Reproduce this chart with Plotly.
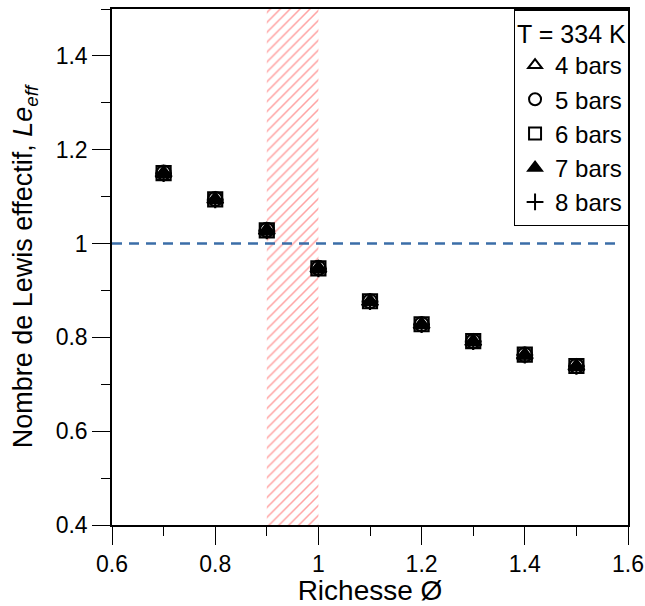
import plotly.graph_objects as go

richesse = [0.7, 0.8, 0.9, 1.0, 1.1, 1.2, 1.3, 1.4, 1.5]
le_4bars = [1.150, 1.094, 1.028, 0.947, 0.876, 0.827, 0.791, 0.762, 0.738]
le_5bars = [1.151, 1.095, 1.029, 0.948, 0.877, 0.828, 0.792, 0.763, 0.739]
le_6bars = [1.150, 1.094, 1.028, 0.947, 0.877, 0.828, 0.792, 0.763, 0.739]
le_7bars = [1.149, 1.093, 1.027, 0.946, 0.876, 0.827, 0.791, 0.762, 0.738]
le_8bars = [1.149, 1.093, 1.027, 0.946, 0.876, 0.827, 0.791, 0.762, 0.738]

zone_x = [0.9, 1.0]
ref_level = 1.0
FONT = "Liberation Sans, Arial"

fig = go.Figure()

# hatched zone
fig.add_trace(go.Scatter(
    x=[zone_x[0], zone_x[1], zone_x[1], zone_x[0], zone_x[0]],
    y=[0.4, 0.4, 1.5, 1.5, 0.4],
    fill="toself", mode="none", fillcolor="rgba(0,0,0,0)",
    fillpattern=dict(shape="/", fgcolor="rgb(255,70,70)", bgcolor="rgba(0,0,0,0)",
                     size=7, solidity=0.22),
    showlegend=False, hoverinfo="skip"))

# reference dashed line
fig.add_trace(go.Scatter(
    x=[0.6, 1.58], y=[ref_level, ref_level], mode="lines",
    line=dict(color="#3b6ea8", width=2.5, dash="10px,7px"),
    showlegend=False, hoverinfo="skip"))

series = [
    ("4 bars", le_4bars, "triangle-up-open", 14),
    ("5 bars", le_5bars, "circle-open", 14),
    ("6 bars", le_6bars, "square-open", 14),
    ("7 bars", le_7bars, "triangle-up", 13),
    ("8 bars", le_8bars, "cross-thin-open", 12),
]
for name, vals, sym, sz in series:
    fig.add_trace(go.Scatter(
        x=richesse, y=vals, mode="markers", name=name, showlegend=False,
        marker=dict(symbol=sym, size=sz, color="black",
                    line=dict(color="black", width=2.2))))

# legend entries (smaller symbols, as in the reference legend)
for name, vals, sym, sz in series:
    fig.add_trace(go.Scatter(
        x=[None], y=[None], mode="markers", name=name, showlegend=True,
        marker=dict(symbol=sym, size=12, color="black",
                    line=dict(color="black", width=1.3))))

axis_common = dict(
    showgrid=False, zeroline=False, showline=True, linecolor="black", linewidth=1.5,
    mirror=True, ticks="outside", ticklen=18, tickwidth=1.2, tickcolor="black",
    automargin=False,
    tickfont=dict(family=FONT, size=23, color="black"),
)

fig.update_xaxes(range=[0.6, 1.6], tickvals=[0.6, 0.8, 1.0, 1.2, 1.4, 1.6],
                 ticktext=["0.6", "0.8", "1", "1.2", "1.4", "1.6"],
                 minor=dict(ticks="outside", ticklen=9, dtick=0.1, tick0=0.6, tickcolor="black", tickwidth=1.2),
                 title=dict(text="Richesse Ø", font=dict(family=FONT, size=28, color="black")),
                 **axis_common)
fig.update_yaxes(range=[0.4, 1.5], tickvals=[0.4, 0.6, 0.8, 1.0, 1.2, 1.4],
                 ticktext=["0.4", "0.6", "0.8", "1", "1.2", "1.4"],
                 minor=dict(ticks="outside", ticklen=9, dtick=0.1, tick0=0.4, tickcolor="black", tickwidth=1.2),
                 title=dict(text="Nombre de Lewis effectif, <i>Le<sub>eff</sub></i>",
                            font=dict(family=FONT, size=27, color="black")),
                 **axis_common)

fig.update_layout(
    width=645, height=606,
    margin=dict(l=112, r=17, t=9, b=81),
    paper_bgcolor="white", plot_bgcolor="white",
    legend=dict(
        title=dict(text="T = 334 K", font=dict(family=FONT, size=25, color="black")),
        font=dict(family=FONT, size=24, color="black"),
        x=1.003, xanchor="right", y=1.0, yanchor="top",
        bordercolor="black", borderwidth=1.5, bgcolor="white",
        itemsizing="constant", tracegroupgap=0, itemwidth=30,
    ),
)

fig.write_html("out.html", config={"displayModeBar": False},
               post_script="document.body.style.margin='0';document.body.style.padding='0';")
